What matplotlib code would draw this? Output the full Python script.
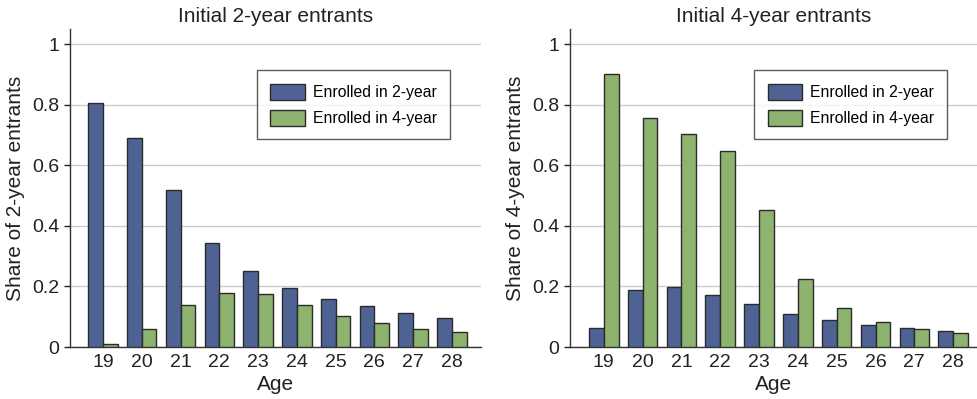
import numpy as np
import matplotlib
matplotlib.use("Agg")
import matplotlib.pyplot as plt

plt.rcParams["font.family"] = ["Liberation Sans", "DejaVu Sans"]

ages = [19, 20, 21, 22, 23, 24, 25, 26, 27, 28]

# initial 2-year entrants
two_enr2 = [0.807, 0.690, 0.517, 0.344, 0.252, 0.195, 0.160, 0.134, 0.113, 0.097]
two_enr4 = [0.011, 0.059, 0.139, 0.177, 0.176, 0.139, 0.102, 0.078, 0.060, 0.050]

# initial 4-year entrants
four_enr2 = [0.063, 0.188, 0.199, 0.173, 0.142, 0.110, 0.090, 0.074, 0.062, 0.054]
four_enr4 = [0.903, 0.758, 0.702, 0.647, 0.451, 0.224, 0.128, 0.084, 0.059, 0.045]

blue = "#4f6294"
green = "#8db36f"
edge = "#2b2b2b"
w = 0.38

fig = plt.figure(figsize=(9.78, 3.99), dpi=100)
ax1 = fig.add_axes([0.0716, 0.1303, 0.4202, 0.7967])
ax2 = fig.add_axes([0.5828, 0.1303, 0.4172, 0.7967])


def panel(ax, y2, y4, title, ylabel, xlim):
    x = np.array(ages)
    ax.bar(x - w / 2, y2, w, color=blue, edgecolor=edge, linewidth=1.0,
           label="Enrolled in 2-year", zorder=3)
    ax.bar(x + w / 2, y4, w, color=green, edgecolor=edge, linewidth=1.0,
           label="Enrolled in 4-year", zorder=3)
    ax.set_xlim(*xlim)
    ax.set_ylim(0, 1.05)
    ax.set_xticks(ages)
    ax.set_yticks([0, 0.2, 0.4, 0.6, 0.8, 1])
    ax.set_yticklabels(["0", "0.2", "0.4", "0.6", "0.8", "1"])
    ax.tick_params(axis="x", length=0, labelsize=14, pad=5, colors="#222222")
    ax.tick_params(axis="y", length=4, width=1, labelsize=14, colors="#222222")
    ax.yaxis.grid(True, color="#cccccc", linewidth=1, zorder=0)
    ax.set_axisbelow(True)
    for s in ["top", "right"]:
        ax.spines[s].set_visible(False)
    for s in ["left", "bottom"]:
        ax.spines[s].set_color("#333333")
        ax.spines[s].set_linewidth(1)
    ax.set_title(title, fontsize=15, pad=5, color="#222222")
    ax.set_xlabel("Age", fontsize=15, labelpad=3, color="#222222")
    ax.set_ylabel(ylabel, fontsize=15, labelpad=5, color="#222222")
    leg = ax.legend(loc="upper right", bbox_to_anchor=(0.925, 0.87), fontsize=11.3,
                    frameon=True, fancybox=False, handlelength=2.2, handleheight=1.2,
                    borderpad=0.85, labelspacing=0.6, handletextpad=0.5,
                    borderaxespad=0)
    leg.get_frame().set_edgecolor("#333333")
    leg.get_frame().set_linewidth(1)


panel(ax1, two_enr2, two_enr4, "Initial 2-year entrants",
      "Share of 2-year entrants", (18.15, 28.75))
panel(ax2, four_enr2, four_enr4, "Initial 4-year entrants",
      "Share of 4-year entrants", (18.13, 28.64))

fig.savefig("out.png", dpi=100)
